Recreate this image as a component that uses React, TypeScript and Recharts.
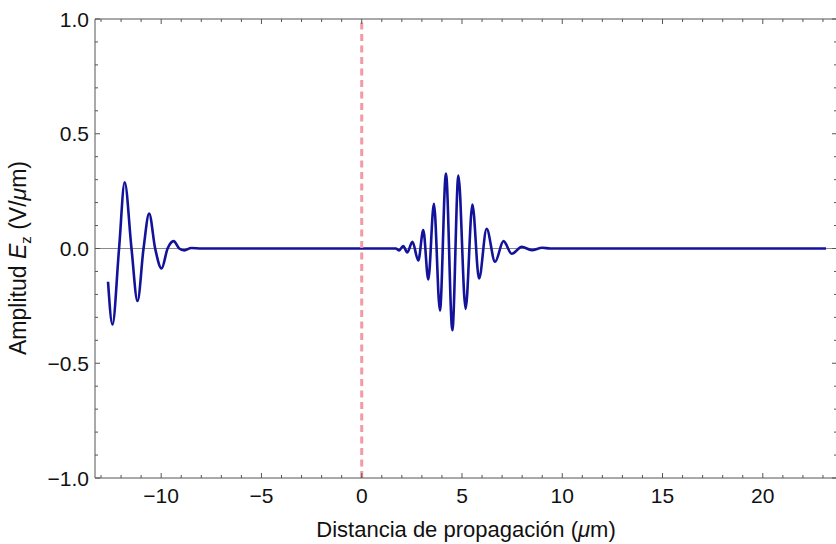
import { LineChart, Line, XAxis, YAxis, ReferenceLine } from "recharts";

// readings taken off the figure: distance in µm, amplitude in V/µm
const distance = [
  -12.65, -12.43, -12.1, -11.82, -11.48, -11.18, -10.88, -10.6, -10.3, -9.98, -9.68, -9.38, -9.1, -8.85, -8.5, -8.0,
  1.7, 1.87, 2.07, 2.27, 2.53, 2.82, 3.07, 3.32, 3.6, 3.9, 4.2, 4.52, 4.82, 5.18, 5.52, 5.85, 6.23, 6.65, 7.07, 7.48,
  7.98, 8.48, 9.0, 9.4, 23.15,
];
const amplitude = [
  -0.145, -0.331, 0, 0.289, 0, -0.229, 0, 0.152, 0, -0.087, 0, 0.032, 0, -0.008, 0.002, 0,
  0, -0.008, 0.011, -0.017, 0.029, -0.052, 0.08, -0.135, 0.195, -0.27, 0.327, -0.356, 0.318, -0.263, 0.192, -0.131,
  0.086, -0.058, 0.032, -0.023, 0.007, -0.007, 0.003, 0, 0,
];

const xTicks = [
  -13, -12, -11, -10, -9, -8, -7, -6, -5, -4, -3, -2, -1, 0, 1, 2, 3, 4, 5, 6, 7, 8, 9, 10, 11, 12, 13, 14, 15, 16, 17,
  18, 19, 20, 21, 22, 23,
];
const yTicks = [
  -1.0, -0.9, -0.8, -0.7, -0.6, -0.5, -0.4, -0.3, -0.2, -0.1, 0.0, 0.1, 0.2, 0.3, 0.4, 0.5, 0.6, 0.7, 0.8, 0.9, 1.0,
];

const data = distance.map((x, i) => ({ x, y: amplitude[i] }));

const FRAME = "#555";
const FONT = "'Liberation Sans', Arial, sans-serif";

const fmt = (v: number, digits: number) => {
  const s = Math.abs(v).toFixed(digits);
  return v < -1e-9 ? "\u2212" + s : s;
};

function XTick(props: any) {
  const { x, y, payload, top } = props;
  const v = payload.value as number;
  const major = v % 5 === 0;
  const len = major ? 5 : 3;
  const dir = top ? 1 : -1;
  return (
    <g>
      <line x1={x} y1={y} x2={x} y2={y + dir * len} stroke={FRAME} strokeWidth={1} />
      {major && !top && (
        <text x={x} y={y + 25} textAnchor="middle" fontSize={21} fill="#111" fontFamily={FONT}>
          {fmt(v, 0)}
        </text>
      )}
    </g>
  );
}

function YTick(props: any) {
  const { x, y, payload, right } = props;
  const v = payload.value as number;
  const major = Math.abs(v * 2 - Math.round(v * 2)) < 1e-6;
  const len = major ? 5 : 3;
  const dir = right ? -1 : 1;
  return (
    <g>
      <line x1={x} y1={y} x2={x + dir * len} y2={y} stroke={FRAME} strokeWidth={1} />
      {major && !right && (
        <text x={x - 6} y={y} dy="0.36em" textAnchor="end" fontSize={21} fill="#111" fontFamily={FONT}>
          {fmt(v, 1)}
        </text>
      )}
    </g>
  );
}

export default function App() {
  return (
    <div
      style={{
        position: "absolute",
        left: 0,
        top: 0,
        width: 836,
        height: 544,
        overflow: "hidden",
        background: "#fff",
        fontFamily: FONT,
      }}
    >
      <LineChart width={838} height={544} data={data} margin={{ top: 18, right: 0, bottom: 0, left: 0 }}>
        <XAxis
          type="number"
          dataKey="x"
          domain={[-13.3, 23.7]}
          ticks={xTicks}
          interval={0}
          allowDataOverflow
          height={66}
          tickSize={0}
          tickMargin={0}
          stroke={FRAME}
          tick={(p: any) => <XTick {...p} />}
        />
        <XAxis
          xAxisId="top"
          orientation="top"
          type="number"
          dataKey="x"
          domain={[-13.3, 23.7]}
          ticks={xTicks}
          interval={0}
          allowDataOverflow
          height={1}
          tickSize={0}
          tickMargin={0}
          stroke={FRAME}
          tick={(p: any) => <XTick {...p} top />}
        />
        <YAxis
          type="number"
          domain={[-1, 1]}
          ticks={yTicks}
          interval={0}
          allowDataOverflow
          width={95}
          tickSize={0}
          tickMargin={0}
          stroke={FRAME}
          tick={(p: any) => <YTick {...p} />}
        />
        <YAxis
          yAxisId="right"
          orientation="right"
          type="number"
          domain={[-1, 1]}
          ticks={yTicks}
          interval={0}
          allowDataOverflow
          width={1}
          tickSize={0}
          tickMargin={0}
          stroke={FRAME}
          tick={(p: any) => <YTick {...p} right />}
        />
        <ReferenceLine y={0} stroke="#8a8a8a" strokeWidth={1} />
        <Line
          type="monotone"
          dataKey="y"
          stroke="#12129a"
          strokeWidth={2.6}
          dot={false}
          activeDot={false}
          isAnimationActive={false}
        />
        <ReferenceLine x={0} stroke="#f39aa3" strokeWidth={3} strokeDasharray="7 4.5" />
      </LineChart>
      <div
        style={{
          position: "absolute",
          left: 466,
          top: 519,
          transform: "translateX(-50%)",
          fontSize: 22,
          lineHeight: "22px",
          whiteSpace: "nowrap",
          color: "#111",
        }}
      >
        Distancia de propagación (<i>μ</i>m)
      </div>
      <div
        style={{
          position: "absolute",
          left: 22,
          top: 258,
          transform: "translate(-50%, -50%) rotate(-90deg)",
          fontSize: 23,
          lineHeight: "23px",
          whiteSpace: "nowrap",
          color: "#111",
        }}
      >
        Amplitud <i>E</i>
        <sub style={{ fontSize: 15 }}>z</sub> (V/<i>μ</i>m)
      </div>
    </div>
  );
}
